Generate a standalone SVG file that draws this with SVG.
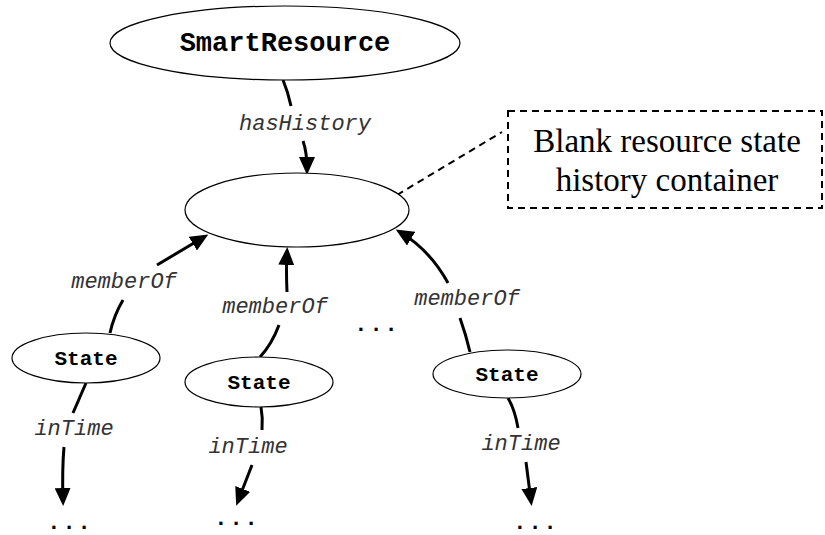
<svg xmlns="http://www.w3.org/2000/svg" width="825" height="535" viewBox="0 0 825 535">
<style>
.node{fill:#fff;stroke:#000;stroke-width:1.2}
.nt{font-family:"Liberation Mono",monospace;font-weight:bold;text-anchor:middle;fill:#000}
.lbl{font-family:"Liberation Mono",monospace;font-style:italic;font-size:22px;text-anchor:middle;fill:#333}
.dots{font-family:"Liberation Mono",monospace;font-weight:bold;font-size:22px;letter-spacing:2px;text-anchor:middle;fill:#000}
.c{fill:none;stroke:#000;stroke-width:3}
.a{marker-end:url(#ah)}
.dash{fill:none;stroke:#000;stroke-width:2;stroke-dasharray:7,5}
.note{font-family:"Liberation Serif",serif;font-size:33px;text-anchor:middle;fill:#000}
</style>
<defs>
<marker id="ah" markerUnits="userSpaceOnUse" markerWidth="20" markerHeight="16" refX="13" refY="8" orient="auto">
<path d="M0,0 L18,8 L0,16 z" fill="#000"/>
</marker>
</defs>
<g id="connectors">
<path class="c" d="M283,80 Q288,92 291,106"/>
<path class="c a" d="M303,141 Q307,152 307,170"/>
<path class="c" d="M110,333 Q114,315 123,300"/>
<path class="c a" d="M157,265 L204,237"/>
<path class="c" d="M260,357 Q272,344 279,325"/>
<path class="c a" d="M287,292 Q286,270 287,252"/>
<path class="c" d="M470,352 Q466,335 460,318"/>
<path class="c a" d="M448,283 Q430,250 400,232"/>
<path class="c" d="M86,383 L73,413"/>
<path class="c a" d="M64,447 Q62,470 63,501"/>
<path class="c" d="M261,407 Q263,418 262,430"/>
<path class="c a" d="M252,465 L238,501"/>
<path class="c" d="M508,398 Q515,410 518,428"/>
<path class="c a" d="M526,462 L531,501"/>
<path class="dash" d="M397,195 L502,132"/>
<text class="lbl" x="305" y="130">hasHistory</text>
<text class="lbl" x="124" y="288">memberOf</text>
<text class="lbl" x="275" y="313">memberOf</text>
<text class="lbl" x="467" y="305">memberOf</text>
<text class="lbl" x="74" y="435">inTime</text>
<text class="lbl" x="248" y="453">inTime</text>
<text class="lbl" x="521" y="450">inTime</text>
</g>
<g id="smartresource">
<ellipse class="node" cx="285" cy="43" rx="175" ry="37"/>
<text class="nt" x="285" y="51" font-size="27">SmartResource</text>
</g>
<g id="container">
<ellipse class="node" cx="297" cy="210" rx="112" ry="37"/>
</g>
<g id="note">
<rect class="dash" x="508" y="111" width="314" height="97"/>
<text class="note" x="667" y="152">Blank resource state</text>
<text class="note" x="667" y="191">history container</text>
</g>
<g id="state1">
<ellipse class="node" cx="86" cy="358" rx="74" ry="25"/>
<text class="nt" x="86" y="365" font-size="21">State</text>
</g>
<g id="state2">
<ellipse class="node" cx="259" cy="382" rx="74" ry="25"/>
<text class="nt" x="259" y="389" font-size="21">State</text>
</g>
<g id="state3">
<ellipse class="node" cx="507" cy="374" rx="74" ry="24"/>
<text class="nt" x="507" y="381" font-size="21">State</text>
</g>
<g id="ellipses">
<text class="dots" x="377" y="331">...</text>
<text class="dots" x="70" y="529">...</text>
<text class="dots" x="237" y="525">...</text>
<text class="dots" x="536" y="529">...</text>
</g>
</svg>
